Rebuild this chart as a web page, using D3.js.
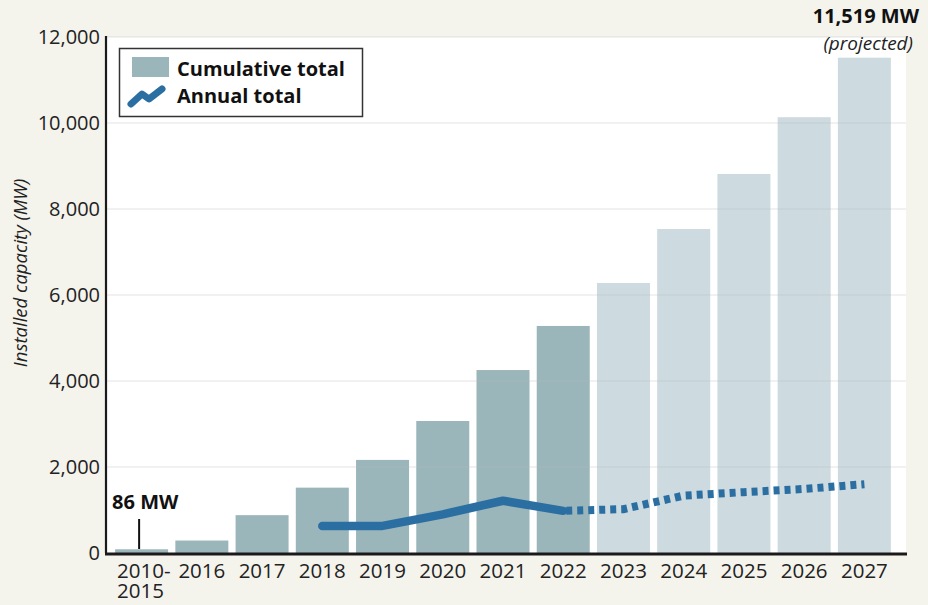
<!DOCTYPE html>
<html>
<head>
<meta charset="utf-8">
<script src="https://cdn.jsdelivr.net/npm/d3@7"></script>
<style>
  body { margin: 0; background: #f4f3ec; }
  svg { display: block; font-family: "Open Sans", "Noto Sans", sans-serif; }
</style>
</head>
<body>
<svg id="chart" width="928" height="605"></svg>
<script>
var years = ["2010-2015", "2016", "2017", "2018", "2019", "2020", "2021", "2022",
    "2023", "2024", "2025", "2026", "2027"];
var cumulative = [86, 290, 880, 1520, 2165, 3070, 4255, 5280, 6280, 7535, 8815, 10135, 11519];
var projected = [false, false, false, false, false, false, false, false, true, true, true, true, true];
var annualYears = ["2018", "2019", "2020", "2021", "2022", "2023", "2024", "2025", "2026", "2027"];
var annual = [630, 630, 900, 1215, 980, 1020, 1335, 1415, 1490, 1600];
var yTicks = [0, 2000, 4000, 6000, 8000, 10000, 12000];

var svg = d3.select("#chart");

var x = d3.scaleBand()
    .domain(years)
    .range([111.5, 894.5])
    .paddingInner(0.12)
    .paddingOuter(0.06);

var y = d3.scaleLinear()
    .domain([0, 12000])
    .range([553, 37]);

// plot background
svg.append("rect")
    .attr("x", 106).attr("y", 37)
    .attr("width", 800).attr("height", 516)
    .attr("fill", "#ffffff");

// bars
svg.append("g")
    .selectAll("rect")
    .data(years)
    .enter()
    .append("rect")
    .attr("x", function (d) { return x(d); })
    .attr("width", x.bandwidth())
    .attr("y", function (d, i) { return y(cumulative[i]); })
    .attr("height", function (d, i) { return y(0) - y(cumulative[i]); })
    .attr("fill", function (d, i) { return projected[i] ? "#cddbe0" : "#9bb6bb"; });

// gridlines
svg.append("g")
    .selectAll("line")
    .data(yTicks.slice(1))
    .enter()
    .append("line")
    .attr("x1", 106).attr("x2", 906)
    .attr("y1", function (d) { return y(d); })
    .attr("y2", function (d) { return y(d); })
    .attr("stroke", "#b8b8b8")
    .attr("stroke-opacity", 0.4)
    .attr("stroke-width", 1.2);

// annual line: solid up to 2022, dotted after
var line = d3.line()
    .x(function (d) { return x(d[0]) + x.bandwidth() / 2; })
    .y(function (d) { return y(d[1]); });

var pts = annualYears.map(function (d, i) { return [d, annual[i]]; });
var split = annualYears.indexOf("2022");

svg.append("path")
    .attr("d", line(pts.slice(0, split + 1)))
    .attr("fill", "none")
    .attr("stroke", "#2b6fa2")
    .attr("stroke-width", 8.5)
    .attr("stroke-linecap", "round")
    .attr("stroke-linejoin", "round");

svg.append("path")
    .attr("d", line(pts.slice(split)))
    .attr("fill", "none")
    .attr("stroke", "#2b6fa2")
    .attr("stroke-width", 8)
    .attr("stroke-dasharray", "6,5")
    .attr("stroke-dashoffset", -3);

// axes
svg.append("line")
    .attr("x1", 106).attr("x2", 106)
    .attr("y1", 36).attr("y2", 553)
    .attr("stroke", "#1a1a1a").attr("stroke-width", 2.2);

svg.append("line")
    .attr("x1", 105).attr("x2", 907)
    .attr("y1", 554).attr("y2", 554)
    .attr("stroke", "#1a1a1a").attr("stroke-width", 3);

svg.append("g")
    .selectAll("text")
    .data(yTicks)
    .enter()
    .append("text")
    .attr("x", 100)
    .attr("y", function (d) { return y(d) + 7; })
    .attr("text-anchor", "end")
    .attr("font-size", 20)
    .attr("fill", "#222")
    .text(function (d) { return d3.format(",")(d); });

// x labels; the first one wraps onto two lines
var xg = svg.append("g")
    .attr("font-size", 20.5)
    .attr("fill", "#222");

years.forEach(function (d) {
    var parts = d.indexOf("-") > 0 ? [d.split("-")[0] + "-", d.split("-")[1]] : [d];
    parts.forEach(function (p, i) {
        xg.append("text")
            .attr("text-anchor", parts.length > 1 ? "start" : "middle")
            .attr("x", parts.length > 1 ? x(d) + 2 : x(d) + x.bandwidth() / 2)
            .attr("y", 578 + i * 20)
            .text(p);
    });
});

svg.append("text")
    .attr("transform", "translate(27,273) rotate(-90)")
    .attr("text-anchor", "middle")
    .attr("font-size", 18.5)
    .attr("font-style", "italic")
    .attr("fill", "#222")
    .text("Installed capacity (MW)");

// annotations
svg.append("line")
    .attr("x1", x(years[0]) + 24).attr("x2", x(years[0]) + 24)
    .attr("y1", 519).attr("y2", 549)
    .attr("stroke", "#111").attr("stroke-width", 2);

svg.append("text")
    .attr("x", x(years[0]) - 3)
    .attr("y", 509)
    .attr("font-size", 20)
    .attr("font-weight", "bold")
    .attr("fill", "#111")
    .text("86 MW");

svg.append("text")
    .attr("x", 919).attr("y", 23)
    .attr("text-anchor", "end")
    .attr("font-size", 20)
    .attr("font-weight", "bold")
    .attr("fill", "#111")
    .text("11,519 MW");

svg.append("text")
    .attr("x", 913).attr("y", 50)
    .attr("text-anchor", "end")
    .attr("font-size", 19)
    .attr("font-style", "italic")
    .attr("fill", "#222")
    .text("(projected)");

// legend
var lg = svg.append("g");
lg.append("rect")
    .attr("x", 119.5).attr("y", 48.5)
    .attr("width", 243).attr("height", 68)
    .attr("fill", "#fff")
    .attr("stroke", "#333").attr("stroke-width", 1.5);
lg.append("rect")
    .attr("x", 132).attr("y", 57)
    .attr("width", 37).attr("height", 20)
    .attr("fill", "#9bb6bb");
lg.append("path")
    .attr("d", "M131,104 L142,94 L149,99 L162,89")
    .attr("fill", "none")
    .attr("stroke", "#2b6fa2")
    .attr("stroke-width", 7)
    .attr("stroke-linecap", "round")
    .attr("stroke-linejoin", "round");
lg.append("text")
    .attr("x", 177).attr("y", 76)
    .attr("font-size", 20).attr("font-weight", "bold").attr("fill", "#111")
    .text("Cumulative total");
lg.append("text")
    .attr("x", 177).attr("y", 103)
    .attr("font-size", 20).attr("font-weight", "bold").attr("fill", "#111")
    .text("Annual total");
</script>
</body>
</html>
